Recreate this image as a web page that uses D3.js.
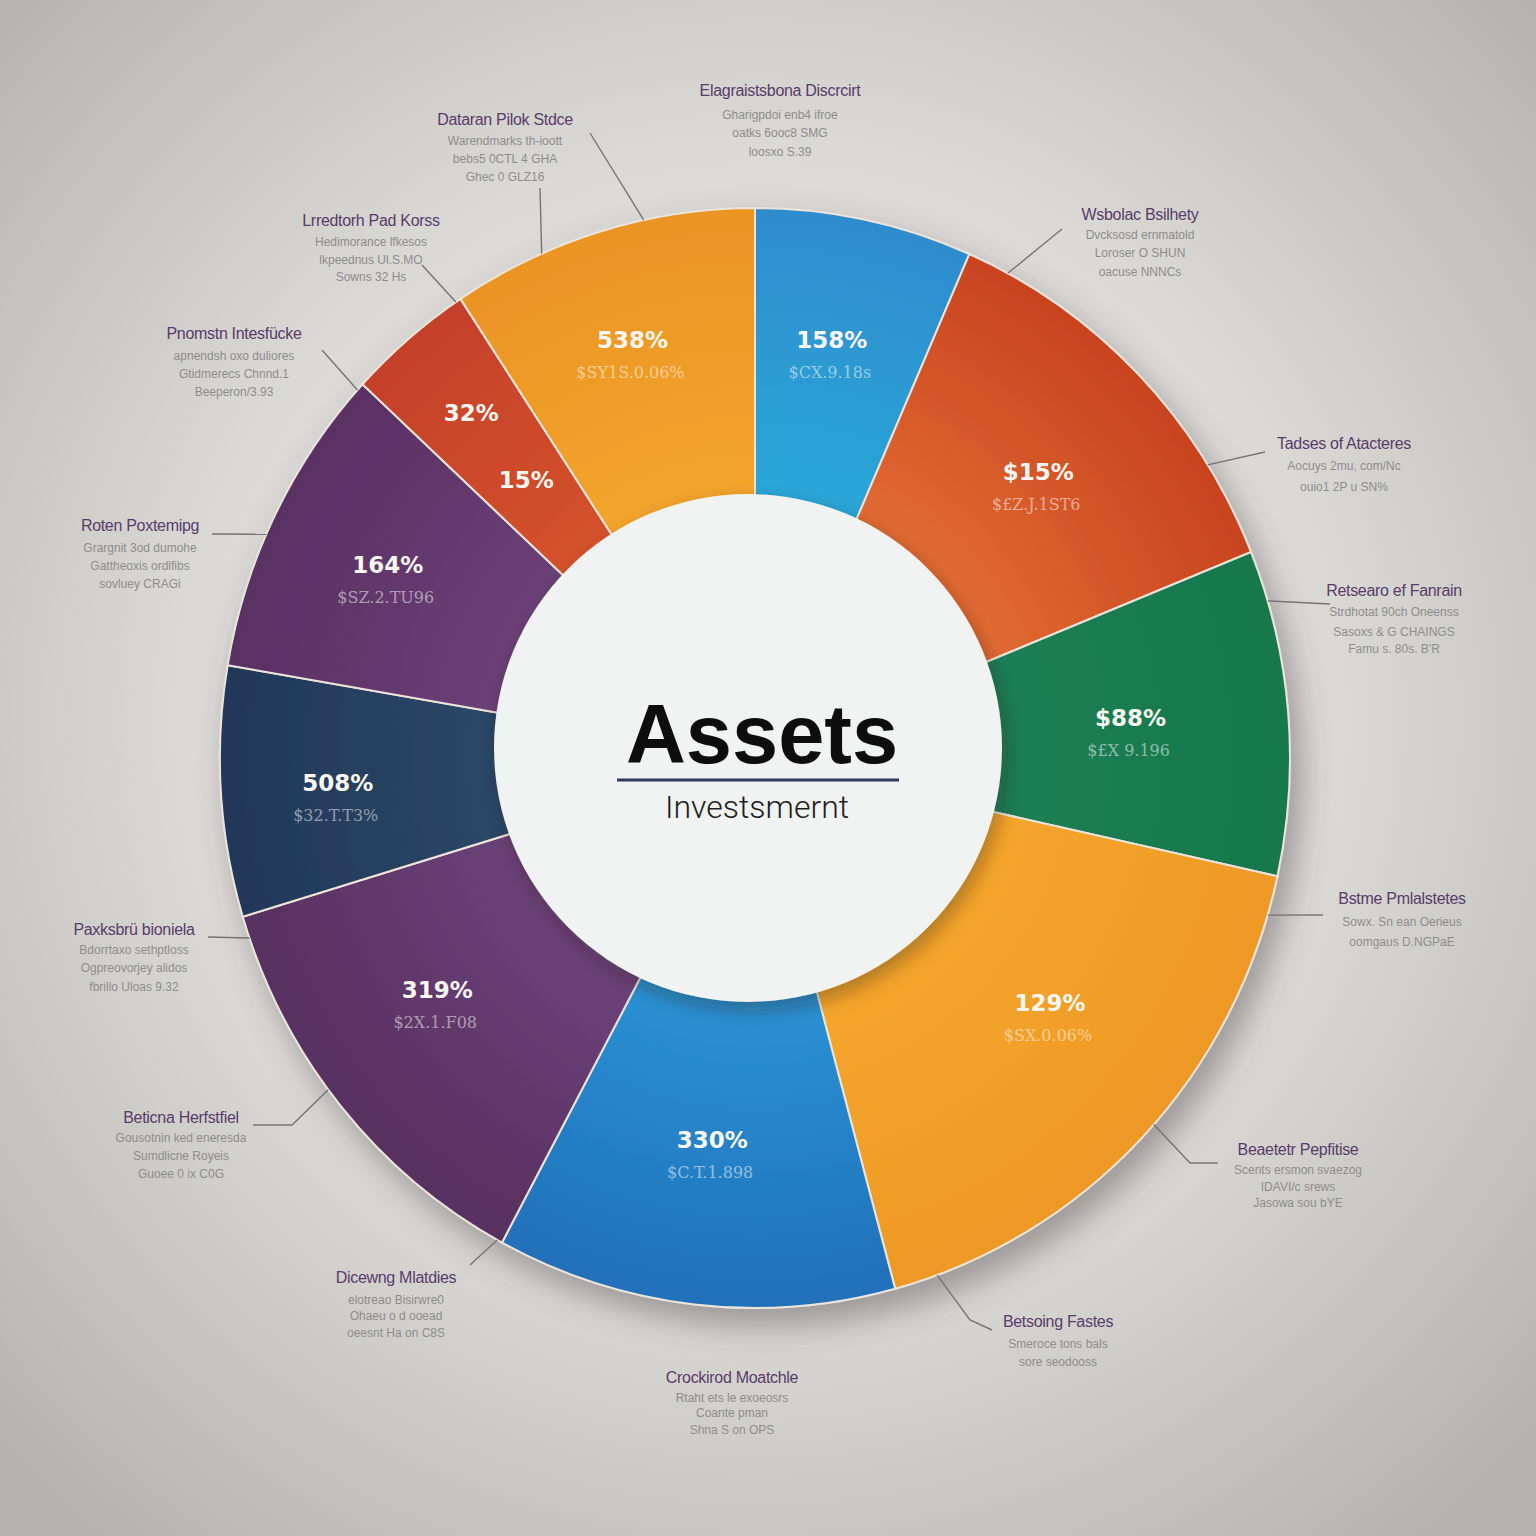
<!DOCTYPE html>
<html>
<head>
<meta charset="utf-8">
<script src="https://cdn.jsdelivr.net/npm/d3@7"></script>
<style>
  html, body { margin: 0; padding: 0; background: #d6d4d1; }
  svg { display: block; }
</style>
</head>
<body>
<svg id="chart" width="1536" height="1536"></svg>
<script>
// ---------------- DATA ----------------
const categories = ["Blue A", "Vermilion", "Green", "Amber", "Blue B", "Purple A", "Navy", "Purple B", "Red", "Orange"];
const shares = [6.56, 12.33, 9.56, 17.33, 12.06, 12.5, 7.36, 9.19, 3.83, 9.28];
const pctLabels = ["158%", "$15%", "$88%", "129%", "330%", "319%", "508%", "164%", "32%", "538%"];
const subLabels = ["$CX.9.18s", "$£Z.J.1ST6", "$£X 9.196", "$SX.0.06%", "$C.T.1.898", "$2X.1.F08", "$32.T.T3%", "$SZ.2.TU96", "15%", "$SY1S.0.06%"];
const innerColors = ["#2ba8d8", "#e26d33", "#1b7f55", "#f4a62c", "#2a92d2", "#6c437a", "#2d4868", "#6c4178", "#d5532b", "#f3a62d"];
const outerColors = ["#2e8ccd", "#c8431f", "#18784b", "#ee9925", "#2070b9", "#58305f", "#213858", "#593063", "#c4402a", "#ea9424"];

const outerTitles = [
  "Dataran Pilok Stdce", "Elagraistsbona Discrcirt", "Lrredtorh Pad Korss", "Pnomstn Intesfücke",
  "Roten Poxtemipg", "Wsbolac Bsilhety", "Tadses of Atacteres", "Retsearo ef Fanrain",
  "Bstme Pmlalstetes", "Paxksbrü bioniela", "Beticna Herfstfiel", "Beaetetr Pepfitise",
  "Dicewng Mlatdies", "Betsoing Fastes", "Crockirod Moatchle"
];
const outerLines = [
  ["Warendmarks  th-ioott", "bebs5  0CTL 4 GHA", "Ghec 0 GLZ16"],
  ["Gharigpdoi enb4 ifroe", "oatks 6ooc8 SMG", "loosxo S.39"],
  ["Hedimorance lfkesos", "lkpeednus Ul.S.MO", "Sowns 32 Hs"],
  ["apnendsh oxo duliores", "Gtidmerecs Chnnd.1", "Beeperon/3.93"],
  ["Grargnit 3od dumohe", "Gattheoxis ordlfibs", "sovluey CRAGi"],
  ["Dvcksosd ernmatold", "Loroser O SHUN", "oacuse NNNCs"],
  ["Aocuys 2mu, com/Nc", "ouio1 2P u SN%"],
  ["Strdhotat 90ch Oneenss", "Sasoxs & G CHAINGS", "Famu s. 80s. B'R"],
  ["Sowx. Sn ean Oerieus", "oomgaus D.NGPaE"],
  ["Bdorrtaxo sethptloss", "Ogpreovorjey alidos", "fbrillo Uloas 9.32"],
  ["Gousotnin ked eneresda", "Sumdlicne Royeis", "Guoee 0 ix C0G"],
  ["Scents ersmon svaezog", "IDAVI/c srews", "Jasowa sou bYE"],
  ["elotreao Bisirwre0", "Ohaeu o d ooead", "oeesnt Ha on C8S"],
  ["Smeroce tons bals", "sore seodooss"],
  ["Rtaht ets le exoeosrs", "Coante  pman", "Shna S on OPS"]
];

// ---------------- LAYOUT ----------------
const W = 1536, H = 1536;
const cx = 755, cy = 758, rx = 535, ry = 550;
const sy = ry / rx;
// small per-slice nudges of the in-slice labels (layout only)
const labelNudge = [[-4, -7], [0, 11], [-18, 8], [9, -21], [2, -7], [-12, -11], [-23, 14], [-13, 1], [0, 0], [-9, -15]];

const svg = d3.select("#chart");
const defs = svg.append("defs");

// background
const bg = defs.append("radialGradient").attr("id", "bg")
  .attr("gradientUnits", "userSpaceOnUse").attr("cx", 760).attr("cy", 720).attr("r", 1050);
bg.append("stop").attr("offset", "0").attr("stop-color", "#ebe9e6");
bg.append("stop").attr("offset", "0.55").attr("stop-color", "#dbd9d5");
bg.append("stop").attr("offset", "1").attr("stop-color", "#b5b3b0");
svg.append("rect").attr("width", W).attr("height", H).attr("fill", "url(#bg)");

// shadows
const sh = defs.append("filter").attr("id", "shadow").attr("x", "-20%").attr("y", "-20%").attr("width", "140%").attr("height", "140%");
sh.append("feDropShadow").attr("dx", 10).attr("dy", 16).attr("stdDeviation", 16)
  .attr("flood-color", "#4a4548").attr("flood-opacity", 0.45);
const sh2 = defs.append("filter").attr("id", "shadow2").attr("x", "-20%").attr("y", "-20%").attr("width", "140%").attr("height", "140%");
sh2.append("feDropShadow").attr("dx", 4).attr("dy", 8).attr("stdDeviation", 9)
  .attr("flood-color", "#2a2020").attr("flood-opacity", 0.35);

// slice gradients
shares.forEach((s, i) => {
  const g = defs.append("radialGradient").attr("id", "sg" + i)
    .attr("gradientUnits", "userSpaceOnUse").attr("cx", 0).attr("cy", 0).attr("r", rx);
  g.append("stop").attr("offset", "0.45").attr("stop-color", innerColors[i]);
  g.append("stop").attr("offset", "1").attr("stop-color", outerColors[i]);
});

const pie = d3.pie().value(d => d).sort(null).startAngle(0).endAngle(2 * Math.PI);
const arcs = pie(shares);
const arc = d3.arc().innerRadius(180).outerRadius(rx);

const sliceG = svg.append("g")
  .attr("transform", `translate(${cx},${cy}) scale(1,${sy})`)
  .attr("filter", "url(#shadow)");
sliceG.selectAll("path").data(arcs).join("path")
  .attr("d", arc)
  .attr("fill", (d, i) => `url(#sg${i})`)
  .attr("stroke", "#ece4da")
  .attr("stroke-width", 2);

// inner white circle
svg.append("circle").attr("cx", 748).attr("cy", 748).attr("r", 254)
  .attr("fill", "#f1f2f2").attr("filter", "url(#shadow2)");

// slice labels
function polar(angle, r) {
  return [cx + r * Math.sin(angle), cy - r * sy * Math.cos(angle)];
}
const labelG = svg.append("g");
arcs.forEach((d, i) => {
  const mid = (d.startAngle + d.endAngle) / 2;
  if (i === 8) {
    const p1 = polar(mid, 437), p2 = polar(mid, 352);
    [[p1, pctLabels[i]], [p2, subLabels[i]]].forEach(([p, t]) => {
      labelG.append("text").attr("x", p[0] - 1).attr("y", p[1] + 6)
        .attr("text-anchor", "middle").attr("font-family", "DejaVu Sans, sans-serif")
        .attr("font-weight", "bold").attr("font-size", 23).attr("fill", "#fbf6f0").text(t);
    });
    return;
  }
  const p = polar(mid, 395);
  const nx = p[0] + labelNudge[i][0], ny = p[1] + labelNudge[i][1];
  labelG.append("text").attr("x", nx).attr("y", ny - 6)
    .attr("text-anchor", "middle").attr("font-family", "DejaVu Sans, sans-serif")
    .attr("font-weight", "bold").attr("font-size", 23).attr("fill", "#fbf8f4").text(pctLabels[i]);
  labelG.append("text").attr("x", nx - 2).attr("y", ny + 24)
    .attr("text-anchor", "middle").attr("font-family", "DejaVu Serif, serif")
    .attr("font-size", 16).attr("fill", "#ffffff").attr("fill-opacity", 0.5).text(subLabels[i]);
});

// center text
svg.append("text").attr("x", 762).attr("y", 763).attr("text-anchor", "middle")
  .attr("font-family", "Liberation Sans, Arial, sans-serif").attr("font-weight", "bold")
  .attr("font-size", 83).attr("fill", "#0d0d0d").text("Assets");
svg.append("line").attr("x1", 617).attr("x2", 899).attr("y1", 780).attr("y2", 780)
  .attr("stroke", "#2d3b58").attr("stroke-width", 3);
svg.append("text").attr("x", 757).attr("y", 818).attr("text-anchor", "middle")
  .attr("font-family", "Roboto, sans-serif").attr("font-weight", 300)
  .attr("font-size", 32).attr("fill", "#1d1d22").text("Investsmernt");

// outer annotations (layout only)
const annLayout = [
  { x: 505, y: 125, subs: [145, 163, 181], leaders: [{ pts: [[590, 133]], a: 348 }, { pts: [[540, 188]], a: 336.5 }] },
  { x: 780, y: 96, subs: [119, 137, 156], leaders: [] },
  { x: 371, y: 226, subs: [246, 264, 281], leaders: [{ pts: [[422, 265]], a: 326 }] },
  { x: 234, y: 339, subs: [360, 378, 396], leaders: [{ pts: [[322, 350]], a: 312 }] },
  { x: 140, y: 531, subs: [552, 570, 588], leaders: [{ pts: [[212, 534]], a: 294 }] },
  { x: 1140, y: 220, subs: [239, 257, 276], leaders: [{ pts: [[1062, 229]], a: 28.2 }] },
  { x: 1344, y: 449, subs: [470, 491], leaders: [{ pts: [[1265, 452]], a: 57.8 }] },
  { x: 1394, y: 596, subs: [616, 636, 653], leaders: [{ pts: [[1330, 604]], a: 73.4 }] },
  { x: 1402, y: 904, subs: [926, 946], leaders: [{ pts: [[1323, 915]], a: 106.6 }] },
  { x: 134, y: 935, subs: [954, 972, 991], leaders: [{ pts: [[208, 937]], a: 250.9 }] },
  { x: 181, y: 1123, subs: [1142, 1160, 1178], leaders: [{ pts: [[253, 1125], [292, 1125]], a: 232.9 }] },
  { x: 1298, y: 1155, subs: [1174, 1191, 1207], leaders: [{ pts: [[1218, 1163], [1190, 1163]], a: 131.8 }] },
  { x: 396, y: 1283, subs: [1304, 1320, 1337], leaders: [{ pts: [[470, 1265]], a: 208.8 }] },
  { x: 1058, y: 1327, subs: [1348, 1366], leaders: [{ pts: [[992, 1330], [970, 1320]], a: 160.1 }] },
  { x: 732, y: 1383, subs: [1402, 1417, 1434], leaders: [] }
];

const annG = svg.append("g");
const lineGen = d3.line();
annLayout.forEach((L, i) => {
  L.leaders.forEach(ld => {
    const e = polar(ld.a * Math.PI / 180, rx);
    annG.append("path").attr("d", lineGen([...ld.pts, e]))
      .attr("fill", "none").attr("stroke", "#767374").attr("stroke-width", 1.4);
  });
  annG.append("text").attr("x", L.x).attr("y", L.y).attr("text-anchor", "middle")
    .attr("font-family", "Liberation Sans, Arial, sans-serif").attr("font-size", 16)
    .attr("fill", "#583c6a").attr("letter-spacing", -0.3).text(outerTitles[i]);
  outerLines[i].forEach((t, j) => {
    annG.append("text").attr("x", L.x).attr("y", L.subs[j]).attr("text-anchor", "middle")
      .attr("font-family", "Liberation Sans, Arial, sans-serif").attr("font-size", 12)
      .attr("fill", "#8e8c8a").text(t);
  });
});
</script>
</body>
</html>
